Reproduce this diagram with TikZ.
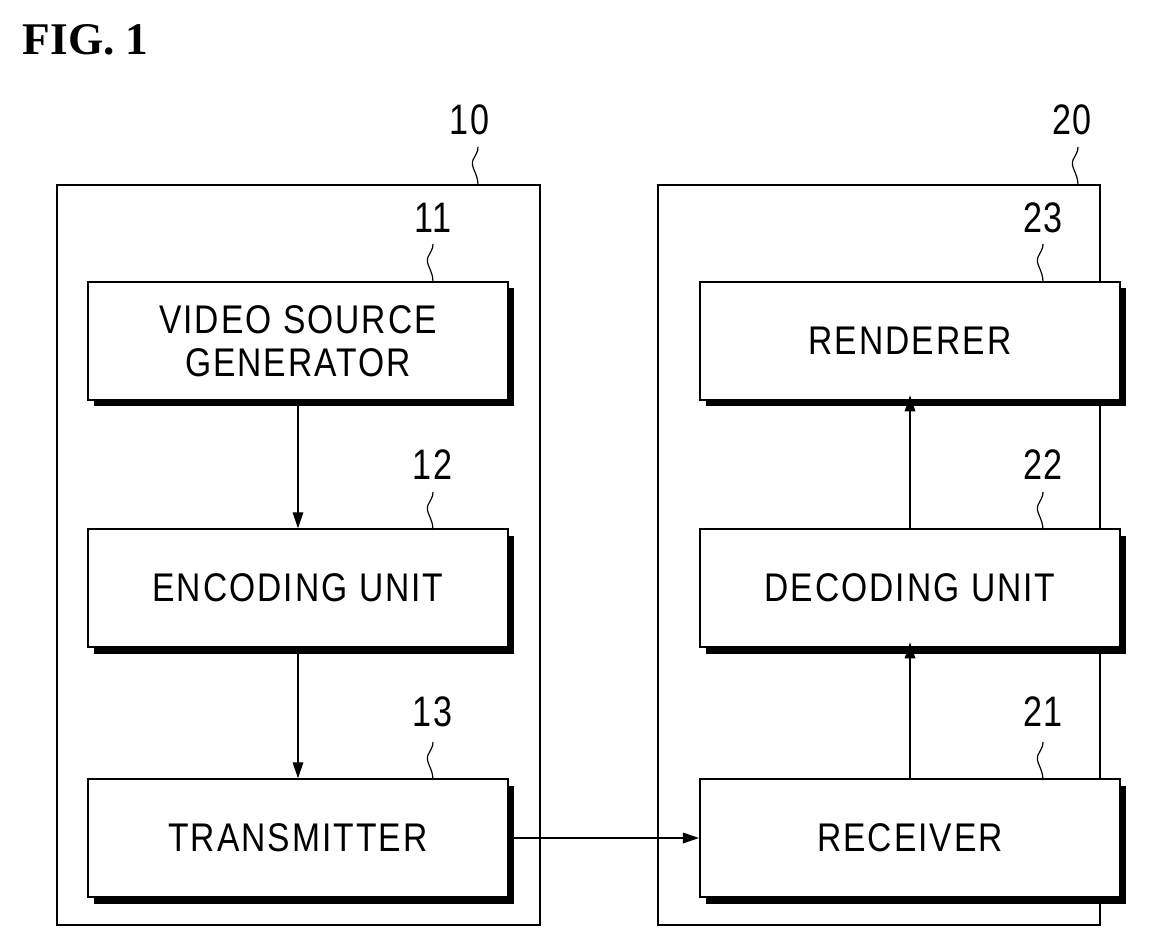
\documentclass[tikz,border=0pt]{standalone}
\usepackage{fontspec}
\setmainfont{Liberation Sans}[LetterSpace=6]
\newfontfamily\figfont{Liberation Serif}
\usetikzlibrary{arrows.meta}
\begin{document}
\begin{tikzpicture}[x=0.75pt,y=-0.75pt,
 blk/.style={draw,line width=1.6pt,fill=white,minimum width=315pt,minimum height=88pt,inner sep=0pt,
   font=\fontsize{30}{34}\selectfont,align=center},
 outer/.style={draw,line width=1.6pt},
 num/.style={font=\fontsize{32}{32}\selectfont},
 arr/.style={line width=0.9pt,-{Triangle[length=12pt,width=8pt]}},
 lead/.style={line width=0.9pt}]
\useasboundingbox (0,0) rectangle (1175,948);
\node[font=\figfont\bfseries\fontsize{34}{34}\selectfont,anchor=west] (fig) at (18,40) {FIG. 1};
\draw[outer] (57,185) rectangle (540,925);
\draw[outer] (658,185) rectangle (1100,925);
\foreach \x/\y in {88/282,88/530,88/780,700/282,700/530,700/780}{
  \fill (\x+6,\y+6) rectangle (\x+426,\y+124);}
\node[blk] (b11) at (298,341) {\scalebox{0.84}[1]{VIDEO SOURCE}\\[-2pt]\scalebox{0.84}[1]{GENERATOR}};
\node[blk] (b12) at (298,588) {\scalebox{0.84}[1]{ENCODING UNIT}};
\node[blk] (b13) at (298,838) {\scalebox{0.84}[1]{TRANSMITTER}};
\node[blk] (b23) at (910,341) {\scalebox{0.84}[1]{RENDERER}};
\node[blk] (b22) at (910,588) {\scalebox{0.84}[1]{DECODING UNIT}};
\node[blk] (b21) at (910,838) {\scalebox{0.84}[1]{RECEIVER}};
\foreach \n/\x/\y/\t in {l10/470/120/10,l20/1072/120/20,l11/433/218/11,l12/433/465/12,l13/433/712/13,l23/1043/218/23,l22/1043/465/22,l21/1043/712/21}{
  \node[num] (\n) at (\x,\y) {\scalebox{0.8}[1]{\t}};}
\foreach \x/\y in {478/185,1078/185,433/282,433/530,433/780,1043/282,1043/530,1043/780}{
  \draw[lead] (\x,\y) .. controls (\x,\y-12) and (\x-8,\y-18) .. (\x-5,\y-25) .. controls (\x-2,\y-31) and (\x,\y-33) .. (\x,\y-38);}
\draw[arr] (b11.south) -- (b12.north);
\draw[arr] (b12.south) -- (b13.north);
\draw[arr] ([xshift=4pt]b13.east) -- (b21.west);
\draw[arr] (b21.north) -- ([yshift=4pt]b22.south);
\draw[arr] (b22.north) -- ([yshift=4pt]b23.south);
\end{tikzpicture}
\end{document}
